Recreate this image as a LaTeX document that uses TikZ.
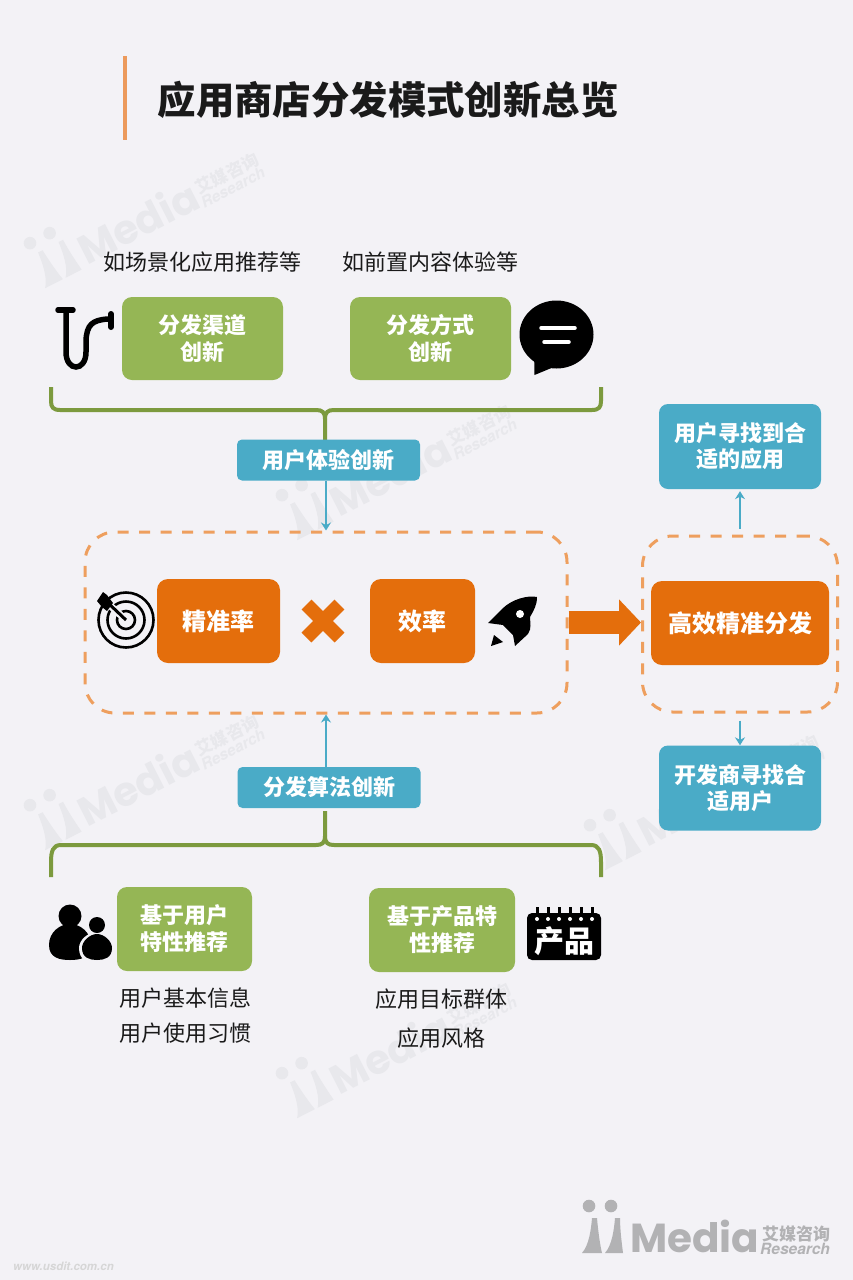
\documentclass[tikz,border=0pt]{standalone}
\usepackage{fontspec}
\setmainfont{Noto Sans CJK SC}
\newfontfamily\logofont{Poppins}
\newfontfamily\heros{TeX Gyre Heros}
\usetikzlibrary{arrows.meta,calc}
\definecolor{bgc}{HTML}{F3F2F6}
\definecolor{greenbox}{HTML}{95B655}
\definecolor{greenline}{HTML}{7C9A3E}
\definecolor{bluebox}{HTML}{4AABC7}
\definecolor{orangebox}{HTML}{E46E0C}
\definecolor{dashc}{HTML}{EE9F5E}
\definecolor{titlebar}{HTML}{EC9A5C}
\definecolor{wmc}{HTML}{E8E8EC}
\definecolor{logoc}{HTML}{B2B2B4}
\definecolor{textc}{HTML}{1A1A1A}
\newcommand{\imlogo}[1]{%
  \fill[#1] (7,-49) circle (6.3) (29,-49) circle (6.3);
  \fill[#1] (0,-2) .. controls (7,-10) and (9,-25) .. (10,-37) -- (15,-37) .. controls (16,-25) and (18,-10) .. (20,-2) -- cycle;
  \fill[#1] (23,-2) .. controls (30,-10) and (32,-25) .. (33,-37) -- (38,-37) .. controls (38,-25) and (40,-10) .. (41,-2) -- cycle;
  \node[anchor=base west,inner sep=0,text=#1,transform shape,font=\logofont\bfseries\fontsize{40.5}{40.5}\selectfont] at (48,-3) {Media};
  \node[anchor=base west,inner sep=0,text=#1,transform shape,font=\bfseries\fontsize{17}{17}\selectfont] at (180,-15) {艾媒咨询};
  \node[anchor=base west,inner sep=0,text=#1,transform shape,font=\heros\itshape\bfseries\fontsize{15.5}{15.5}\selectfont] at (178,-1) {Research};
}
\tikzset{
  x=1pt,y=-1pt,
  greenn/.style={fill=greenbox,rounded corners=10pt,text=white,font=\bfseries\fontsize{22}{27}\selectfont,align=center,inner sep=0},
  bluen/.style={fill=bluebox,rounded corners=9pt,text=white,font=\bfseries\fontsize{22}{26}\selectfont,align=center,inner sep=0},
  bluebar/.style={fill=bluebox,rounded corners=5pt,text=white,font=\bfseries\fontsize{22}{26}\selectfont,align=center,inner sep=0},
  orangen/.style={fill=orangebox,rounded corners=11pt,text=white,font=\bfseries\fontsize{24}{28}\selectfont,align=center,inner sep=0},
  dashn/.style={draw=dashc,line width=3pt,dash pattern=on 11pt off 10.5pt,rounded corners=30pt,inner sep=0},
  plain/.style={text=textc,inner sep=0,font=\fontsize{22}{26}\selectfont},
  bracket/.style={draw=greenline,line width=4pt},
  bluearrow/.style={draw=bluebox,line width=2.5pt,-{Stealth[length=8pt,width=10pt]}},
}
\begin{document}
\begin{tikzpicture}
\useasboundingbox (0,0) rectangle (853,1280);
\fill[bgc] (0,0) rectangle (853,1280);
% watermarks
\foreach \wx/\wy in {46/290,298/542,46/852,606/872,298/1120}{
  \begin{scope}[shift={(\wx,\wy)},rotate=27]
    \imlogo{wmc}
  \end{scope}
}
\begin{scope}[shift={(582,1255)}]
  \imlogo{logoc}
\end{scope}
\node[anchor=base west,inner sep=0,text=black!16,font=\heros\itshape\bfseries\fontsize{11.5}{11.5}\selectfont] (web) at (13,1270) {www.usdit.com.cn};
% title
\fill[titlebar] (123,56) rectangle (127,140);
\node[anchor=west,inner sep=0,text=textc,font=\bfseries\fontsize{38.4}{42}\selectfont] (title) at (157.5,100) {应用商店分发模式创新总览};
% top labels
\node[plain] (t1) at (202,262) {如场景化应用推荐等};
\node[plain] (t2) at (430,262) {如前置内容体验等};
% green boxes top
\node[greenn,minimum width=161pt,minimum height=83pt] (g1) at (202.5,338.5) {分发渠道\\创新};
\node[greenn,minimum width=161pt,minimum height=83pt] (g2) at (430.5,338.5) {分发方式\\创新};
% pipe icon
\draw[black,line width=5.5pt,line cap=round] (58,310) -- (73,310);
\draw[black,line width=5.5pt] (66,310) -- (66,352) .. controls (66,372) and (86,372) .. (86,352) -- (86,340) .. controls (87,325) and (92,320) .. (108,319);
\draw[black,line width=6pt,line cap=round] (111,314) -- (111,327);
% bubble icon
\fill[black] (556.5,334.5) ellipse (37 and 34);
\fill[black] (534,350) -- (534.5,375) -- (566,362) -- cycle;
\draw[white,line width=3.5pt,line cap=round] (541,328) -- (575,328) (544,342) -- (569,342);
% top bracket
\coordinate (brTL) at (51,387);
\coordinate (brTR) at (601,387);
\coordinate (brTS) at (325,440);
\draw[bracket] (brTL) -- (51,401) .. controls (51,407) and (53,410) .. (60,410) -- (316,410) .. controls (322,410) and (325,412) .. (325,419) -- (brTS);
\draw[bracket] (brTR) -- (601,401) .. controls (601,407) and (599,410) .. (592,410) -- (334,410) .. controls (328,410) and (325,412) .. (325,419);
% blue boxes
\node[bluebar,minimum width=183pt,minimum height=41pt] (ux) at (328.5,460) {用户体验创新};
\node[bluebar,minimum width=183pt,minimum height=41pt] (alg) at (329,787.5) {分发算法创新};
% dashed boxes
\node[dashn,minimum width=482pt,minimum height=181pt] (dash1) at (326,622.5) {};
\node[dashn,minimum width=195pt,minimum height=176pt] (dash2) at (740,624) {};
\draw[bluearrow] (dash1.north |- ux.south) -- (dash1.north);
\draw[bluearrow] (dash1.south |- alg.north) -- (dash1.south);
% orange boxes
\node[orangen,minimum width=123pt,minimum height=84pt] (acc) at (218.5,621) {精准率};
\node[orangen,minimum width=105pt,minimum height=84pt] (eff) at (422.5,621) {效率};
\node[orangen,minimum width=178pt,minimum height=84pt] (both) at (740,623) {高效精准分发};
% times sign
\draw[orangebox,line width=14pt] (306.5,604.5) -- (339.5,637.5) (339.5,604.5) -- (306.5,637.5);
% target icon
\draw[black,line width=2.6pt] (126,620) circle (27.5) (126,620) circle (18.5) (126,620) circle (9);
\draw[bgc,line width=7pt] (126,620) -- (104,600);
\draw[black,line width=3pt] (126,620) -- (107,602);
\fill[black] (97,601) -- (103,592) -- (107,595) -- (113,603) -- (107,611) -- (102,607) -- cycle;
% rocket icon
\fill[black] (537,597) .. controls (528,595) and (512,599) .. (502,609) -- (488,623) -- (503,625) -- (513,635) -- (515,646) -- (528,634) .. controls (532,628) and (530,622) .. (530,617) .. controls (534,610) and (537,605) .. (537,597) -- cycle;
\fill[black] (491,646) -- (494,635) -- (503,642) -- cycle;
\fill[white] (520,614) circle (4);
% big arrow
\draw[orangebox,line width=23pt,-{Triangle[length=22pt,width=45pt]}] (dash1.east) -- (dash1.east -| dash2.west);
% right blue boxes
\node[bluen,minimum width=162pt,minimum height=85pt] (found) at (740,446.5) {用户寻找到合\\适的应用};
\node[bluen,minimum width=162pt,minimum height=85pt] (dev) at (740,788) {开发商寻找合\\适用户};
\draw[bluearrow,shorten <=6pt,shorten >=2pt] (dash2.north) -- (found.south);
\draw[bluearrow,shorten <=7pt] (dash2.south) -- (dev.north);
% bottom bracket
\coordinate (brBL) at (51,877);
\coordinate (brBR) at (601,877);
\coordinate (brBS) at (325,811);
\draw[bracket] (brBL) -- (51,862) .. controls (51,851) and (53,845) .. (61,845) -- (316,845) .. controls (322,845) and (325,843) .. (325,836) -- (brBS);
\draw[bracket] (brBR) -- (601,862) .. controls (601,851) and (599,845) .. (591,845) -- (334,845) .. controls (328,845) and (325,843) .. (325,836);
% bottom green
\node[greenn,minimum width=135pt,minimum height=84pt] (g3) at (184.5,929) {基于用户\\特性推荐};
\node[greenn,minimum width=146pt,minimum height=84pt] (g4) at (442,930) {基于产品特\\性推荐};
% people icon
\fill[black] (70,916) circle (11.5);
\fill[black] (49,945) .. controls (49,932) and (60,924) .. (70,924) .. controls (80,924) and (91,932) .. (91,945) .. controls (91,958) and (80,960) .. (70,960) .. controls (60,960) and (49,958) .. (49,945) -- cycle;
\fill[bgc] (97,926) circle (11);
\fill[bgc] (79,948) .. controls (79,940) and (88,932) .. (97,932) .. controls (106,932) and (115,940) .. (115,948) .. controls (115,960) and (106,964) .. (97,964) .. controls (88,964) and (79,960) .. (79,948) -- cycle;
\fill[black] (97,925) circle (8);
\fill[black] (82,948) .. controls (82,941) and (90,934) .. (97,934) .. controls (104,934) and (112,941) .. (112,948) .. controls (112,958) and (104,960) .. (97,960) .. controls (90,960) and (82,958) .. (82,948) -- cycle;
% product icon
\fill[black,rounded corners=5pt] (527,913) rectangle (601,960);
\foreach \tx in {537,548,559,570,581,592}{\fill[black] (\tx-1.5,907) rectangle (\tx+1.5,916);}
\foreach \tx in {537,548,559,570,581,592}{\fill[white] (\tx,919) circle (2);}
\node[inner sep=0,text=white,font=\bfseries\fontsize{30}{30}\selectfont] (prod) at (564,941) {产品};
% bottom texts
\node[plain] (b1) at (185,998) {用户基本信息};
\node[plain] (b2) at (185,1033) {用户使用习惯};
\node[plain] (b3) at (441.5,999) {应用目标群体};
\node[plain] (b4) at (441.5,1038) {应用风格};
\end{tikzpicture}
\end{document}
